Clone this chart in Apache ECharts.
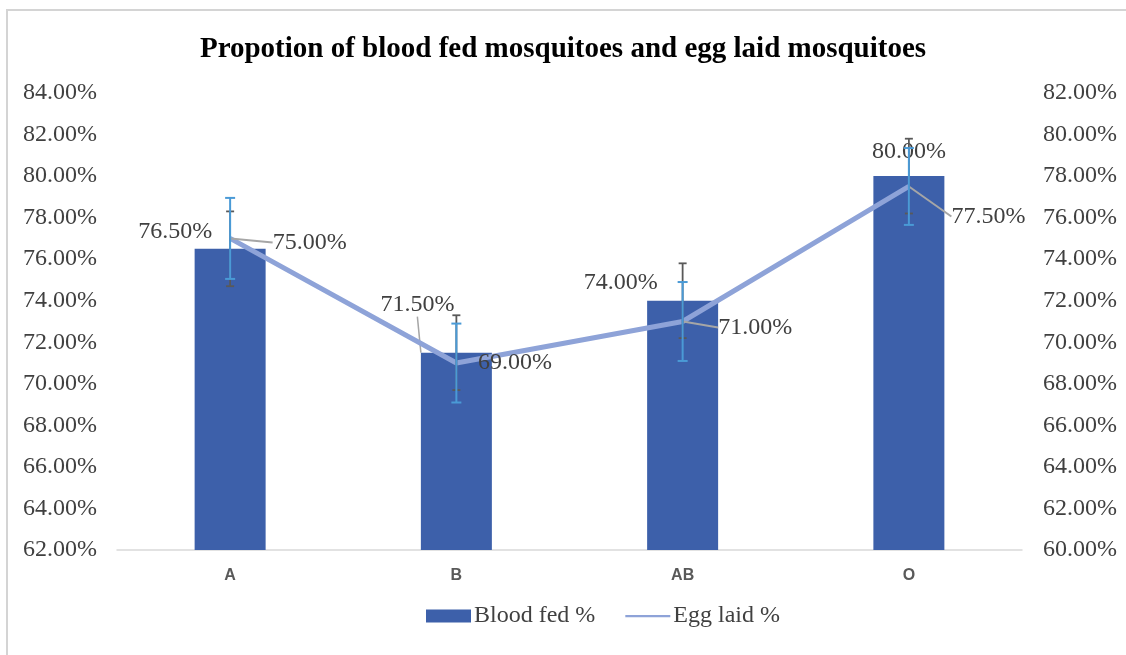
<!DOCTYPE html>
<html>
<head>
<meta charset="utf-8">
<title>Propotion of blood fed mosquitoes and egg laid mosquitoes</title>
<script src="https://cdn.jsdelivr.net/npm/echarts@6/dist/echarts.min.js"></script>
<style>
  html, body { margin: 0; padding: 0; background: #fff; }
  #chart { width: 1126px; height: 655px; }
</style>
</head>
<body>
<div id="chart"></div>
<script type="text/javascript">
// data
var groups = ['A', 'B', 'AB', 'O'];
var bloodFed = [76.5, 71.5, 74.0, 80.0];
var eggLaid = [75.0, 69.0, 71.0, 77.5];
var bloodFedErr = [1.8, 1.8, 1.8, 1.8];
var eggLaidErr = [1.95, 1.9, 1.9, 1.85];
var leftTicks = { min: 62, max: 84, step: 2 };
var rightTicks = { min: 60, max: 82, step: 2 };

// label nudges (px), leader line on/off
var barLabelMove = [[-55, 0], [-39, -31], [-62, -1], [0, -7]];
var barLeader = [false, true, false, false];
var lineLabelMove = [[37, 4], [16, 0], [30, 6], [37, 30]];
var lineLeader = [true, false, true, true];

var serif = 'Liberation Serif';
var pct = function (v) { return v.toFixed(2) + '%'; };

function errData(vals, errs) {
    return vals.map(function (v, i) { return [i, v - errs[i], v + errs[i]]; });
}

function errRender(color, width, cap) {
    return function (params, api) {
        var x = api.value(0);
        var lo = api.coord([x, api.value(1)]);
        var hi = api.coord([x, api.value(2)]);
        var st = { stroke: color, lineWidth: width };
        return {
            type: 'group',
            children: [
                { type: 'line', shape: { x1: hi[0], y1: hi[1], x2: lo[0], y2: lo[1] }, style: st },
                { type: 'line', shape: { x1: hi[0] - cap, y1: hi[1], x2: hi[0] + cap, y2: hi[1] }, style: st },
                { type: 'line', shape: { x1: lo[0] - cap, y1: lo[1], x2: lo[0] + cap, y2: lo[1] }, style: st }
            ]
        };
    };
}

var myChart = echarts.init(document.getElementById('chart'));

var option = {
    backgroundColor: '#fff',
    animation: false,
    graphic: [{
        type: 'rect',
        shape: { x: 7, y: 10, width: 1140, height: 670 },
        style: { fill: 'none', stroke: '#d4d4d4', lineWidth: 2 },
        silent: true
    }],
    title: {
        text: 'Propotion of blood fed mosquitoes and egg laid mosquitoes',
        left: 'center',
        top: 30,
        textStyle: { fontFamily: serif, fontWeight: 'bold', fontSize: 29, color: '#000' }
    },
    grid: { left: 117, right: 104, top: 93, bottom: 105 },
    legend: {
        bottom: 22,
        left: 421,
        itemWidth: 45,
        itemHeight: 13,
        itemGap: 30,
        textStyle: { fontFamily: serif, fontSize: 24, color: '#404040', padding: [0, 0, 0, -2] },
        data: [
            { name: 'Blood fed %', icon: 'rect' },
            { name: 'Egg laid %', icon: 'path://M0,0H20V1H0Z', lineStyle: { width: 4 } }
        ]
    },
    xAxis: {
        type: 'category',
        data: groups,
        axisLine: { show: true, lineStyle: { color: '#d9d9d9', width: 1.5 } },
        axisTick: { show: false },
        axisLabel: { margin: 18, fontFamily: 'Liberation Sans', fontWeight: 'bold', fontSize: 16, color: '#595959' }
    },
    yAxis: [{
        type: 'value',
        min: leftTicks.min, max: leftTicks.max, interval: leftTicks.step,
        axisLine: { show: false }, axisTick: { show: false }, splitLine: { show: false },
        axisLabel: { margin: 20, formatter: pct, fontFamily: serif, fontSize: 24, color: '#404040' }
    }, {
        type: 'value',
        position: 'right',
        min: rightTicks.min, max: rightTicks.max, interval: rightTicks.step,
        axisLine: { show: false }, axisTick: { show: false }, splitLine: { show: false },
        axisLabel: { margin: 21, formatter: pct, fontFamily: serif, fontSize: 24, color: '#404040' }
    }],
    series: [{
        name: 'Blood fed %',
        type: 'bar',
        yAxisIndex: 0,
        barWidth: 71,
        itemStyle: { color: '#3d60aa' },
        data: bloodFed.map(function (v, i) {
            return { value: v, labelLine: { show: barLeader[i] } };
        }),
        label: {
            show: true, position: 'top', distance: 5,
            formatter: function (p) { return pct(p.value); },
            fontFamily: serif, fontSize: 24, color: '#404040'
        },
        labelLine: { lineStyle: { color: '#a6a6a6', width: 1.5 } },
        labelLayout: function (p) {
            return { dx: barLabelMove[p.dataIndex][0], dy: barLabelMove[p.dataIndex][1] };
        },
        z: 2
    }, {
        name: 'Egg laid %',
        type: 'line',
        yAxisIndex: 1,
        symbol: 'circle',
        symbolSize: 1,
        itemStyle: { color: '#8ea3d8' },
        lineStyle: { color: '#8ea3d8', width: 5 },
        data: eggLaid.map(function (v, i) {
            return { value: v, labelLine: { show: lineLeader[i] } };
        }),
        label: {
            show: true, position: 'right', distance: 5,
            formatter: function (p) { return pct(p.value); },
            fontFamily: serif, fontSize: 24, color: '#404040'
        },
        labelLine: { lineStyle: { color: '#a6a6a6', width: 2 } },
        labelLayout: function (p) {
            return { dx: lineLabelMove[p.dataIndex][0], dy: lineLabelMove[p.dataIndex][1] };
        },
        z: 3
    }, {
        name: 'Blood fed err',
        type: 'custom',
        yAxisIndex: 0,
        renderItem: errRender('#595959', 1.8, 4),
        data: errData(bloodFed, bloodFedErr),
        z: 4
    }, {
        name: 'Egg laid err',
        type: 'custom',
        yAxisIndex: 1,
        renderItem: errRender('#4a9ad6', 2, 5),
        data: errData(eggLaid, eggLaidErr),
        z: 5
    }]
};
myChart.setOption(option);
</script>
</body>
</html>
